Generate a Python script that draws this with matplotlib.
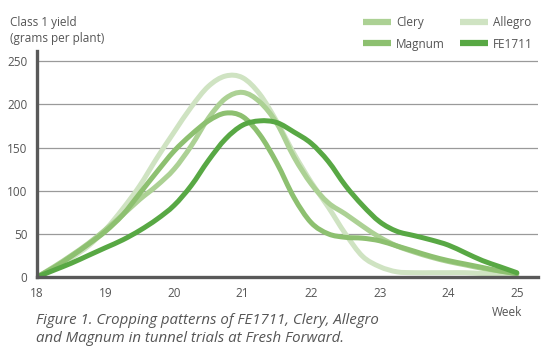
import matplotlib.pyplot as plt
import numpy as np
from matplotlib.lines import Line2D
from matplotlib.patches import PathPatch
from matplotlib.path import Path

weeks = np.arange(18, 25.01, 0.25)

fe1711 = [0, 8, 16, 25, 34, 43, 54, 67, 83, 106, 135, 160, 176, 181, 179,
          168, 155, 134, 106, 83, 64, 53, 48, 43, 37, 28, 19, 12, 5]
magnum = [0, 11, 24, 38, 53, 72, 97, 122, 146, 165, 181, 190, 186, 165, 132,
          92, 63, 50, 46, 45, 42, 36, 30, 24, 19, 15, 11, 7, 4]
clery = [0, 12, 25, 39, 55, 72, 90, 106, 125, 152, 184, 207, 214, 203, 178,
         139, 108, 86, 73, 59, 46, 36, 29, 23, 18, 14, 10, 7, 4]
allegro = [0, 10, 22, 36, 55, 79, 106, 138, 168, 197, 221, 233, 231, 212, 180,
           143, 110, 81, 50, 24, 12, 6, 5, 5, 5, 5, 4, 3, 2]

series = [
    ("Allegro", allegro, "#cfe3c2"),
    ("Clery", clery, "#acd194"),
    ("Magnum", magnum, "#8dc070"),
    ("FE1711", fe1711, "#58a844"),
]

x_ticks = [18, 19, 20, 21, 22, 23, 24, 25]
y_ticks = [0, 50, 100, 150, 200, 250]


def smooth_path(x, y):
    """Bezier path through the points (Catmull-Rom style control points)."""
    pts = np.column_stack([x, y]).astype(float)
    ext = np.vstack([pts[0], pts, pts[-1]])
    verts = [pts[0]]
    codes = [Path.MOVETO]
    for i in range(1, len(ext) - 2):
        p0, p1, p2, p3 = ext[i - 1], ext[i], ext[i + 1], ext[i + 2]
        verts += [p1 + (p2 - p0) / 6, p2 - (p3 - p1) / 6, p2]
        codes += [Path.CURVE4] * 3
    return Path(verts, codes)


plt.rcParams["font.family"] = ["Open Sans", "DejaVu Sans"]
text_col = "#555555"

fig = plt.figure(figsize=(5.55, 3.53), dpi=100)
ax = fig.add_axes([0.0667, 0.2153, 0.9027, 0.6402])

handles = {}
for name, vals, col in series:
    ax.add_patch(PathPatch(smooth_path(weeks, vals), fill=False, edgecolor=col,
                           lw=3.6, joinstyle="round", capstyle="round", zorder=3))
    handles[name] = Line2D([], [], color=col, lw=4.5, solid_capstyle="butt")

ax.set_xlim(18, 25.31)
ax.set_ylim(0, 262)
ax.set_xticks(x_ticks)
ax.set_yticks(y_ticks)
ax.tick_params(length=0, labelsize=8.5, colors=text_col, pad=7)
ax.yaxis.grid(True, color="#9a9a9a", lw=0.9)
ax.set_axisbelow(True)
for s in ["top", "right"]:
    ax.spines[s].set_visible(False)
for s in ["left", "bottom"]:
    ax.spines[s].set_color("#595959")
    ax.spines[s].set_linewidth(2.4)
    ax.spines[s].set_zorder(4)

# legend: two columns, Clery / Allegro on top, Magnum / FE1711 below
order = ["Clery", "Magnum", "Allegro", "FE1711"]
leg = ax.legend([handles[n] for n in order], order, ncol=2, frameon=False,
                fontsize=8.5, handlelength=2.35, handletextpad=0.45,
                columnspacing=1.3, labelspacing=0.75,
                loc="upper left", bbox_to_anchor=(0.629, 1.203))
for t in leg.get_texts():
    t.set_color(text_col)

fig.text(0.018, 0.955, "Class 1 yield\n(grams per plant)", fontsize=8.5,
         color=text_col, va="top", ha="left", linespacing=1.35)
fig.text(0.9135, 0.116, "Week", fontsize=8.5, color=text_col, ha="center", va="center")
fig.text(0.065, 0.112,
         "Figure 1. Cropping patterns of FE1711, Clery, Allegro\n"
         "and Magnum in tunnel trials at Fresh Forward.",
         fontsize=10.8, style="italic", color=text_col, va="top", ha="left",
         linespacing=1.2)

fig.savefig("out.png", dpi=100)
